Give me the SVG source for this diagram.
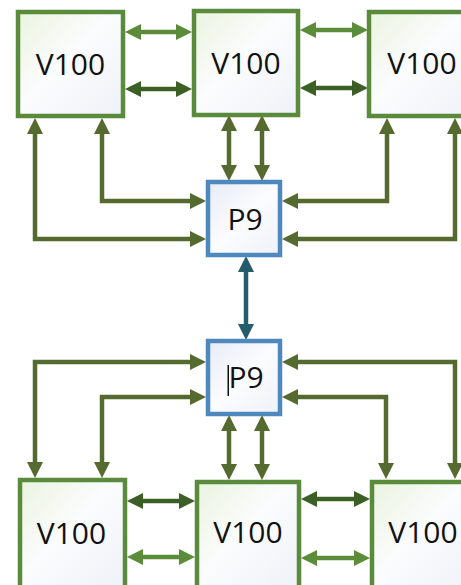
<svg xmlns="http://www.w3.org/2000/svg" width="461" height="585" viewBox="0 0 461 585">
<style>
.v{stroke:#5a8a3b;stroke-width:4.5;fill:url(#gv)}
.p{stroke:#4f88bd;stroke-width:4.5;fill:url(#gp)}
.t{font-family:"Open Sans","Liberation Sans",sans-serif;font-size:30px;fill:#111;text-anchor:middle}
.c{fill:none;stroke-width:4.5;stroke-linejoin:miter}
.lt{stroke:#5b8c3a;marker-start:url(#mL);marker-end:url(#mL)}
.dk{stroke:#3c5f26;marker-start:url(#mD);marker-end:url(#mD)}
.ol{stroke:#556a2e;marker-end:url(#mO)}
.ol2{stroke:#556a2e;marker-start:url(#mO);marker-end:url(#mO)}
.tl{stroke:#245c6b;marker-start:url(#mT);marker-end:url(#mT)}
</style>
<defs>
<linearGradient id="gv" x1="0" y1="0" x2="1" y2="1">
<stop offset="0" stop-color="#eaf3df"/><stop offset="0.45" stop-color="#fbfcfd"/><stop offset="1" stop-color="#eef1f8"/>
</linearGradient>
<linearGradient id="gp" x1="0" y1="0" x2="1" y2="1">
<stop offset="0" stop-color="#e6ebf6"/><stop offset="0.5" stop-color="#fbfcfe"/><stop offset="1" stop-color="#eef1f8"/>
</linearGradient>
<marker id="mL" viewBox="0 0 16 16" refX="4" refY="8" markerWidth="16" markerHeight="16" markerUnits="userSpaceOnUse" orient="auto-start-reverse"><path d="M0,0 L16,8 L0,16 z" fill="#5b8c3a"/></marker>
<marker id="mD" viewBox="0 0 16 16" refX="4" refY="8" markerWidth="16" markerHeight="16" markerUnits="userSpaceOnUse" orient="auto-start-reverse"><path d="M0,0 L16,8 L0,16 z" fill="#3c5f26"/></marker>
<marker id="mO" viewBox="0 0 16 16" refX="4" refY="8" markerWidth="16" markerHeight="16" markerUnits="userSpaceOnUse" orient="auto-start-reverse"><path d="M0,0 L16,8 L0,16 z" fill="#556a2e"/></marker>
<marker id="mT" viewBox="0 0 16 16" refX="4" refY="8" markerWidth="16" markerHeight="16" markerUnits="userSpaceOnUse" orient="auto-start-reverse"><path d="M0,0 L16,8 L0,16 z" fill="#245c6b"/></marker>
</defs>
<g id="connectors">
<path class="c lt" d="M137,32 H180"/>
<path class="c dk" d="M137,89 H180"/>
<path class="c lt" d="M312,30 H356"/>
<path class="c dk" d="M312,88 H356"/>
<path class="c ol2" d="M35,130 V239 H194"/>
<path class="c ol2" d="M102,130 V201 H194"/>
<path class="c ol2" d="M387,130 V201 H294"/>
<path class="c ol2" d="M455,130 V239 H294"/>
<path class="c ol2" d="M229,127 V169"/>
<path class="c ol2" d="M262,127 V169"/>
<path class="c tl" d="M246,268 V328"/>
<path class="c ol2" d="M194,362 H35 V466"/>
<path class="c ol2" d="M194,397 H102 V466"/>
<path class="c ol2" d="M294,362 H455 V467"/>
<path class="c ol2" d="M294,397 H386 V467"/>
<path class="c ol2" d="M229,427 V468"/>
<path class="c ol2" d="M262,427 V468"/>
<path class="c dk" d="M139,501 H183"/>
<path class="c lt" d="M139,557 H183"/>
<path class="c dk" d="M313,499 H358"/>
<path class="c lt" d="M313,558 H358"/>
</g>
<g id="v100-top-left"><rect class="v" x="18" y="12" width="105" height="104"/><text class="t" x="70.5" y="75">V100</text></g>
<g id="v100-top-mid"><rect class="v" x="194" y="11" width="104" height="104"/><text class="t" x="246" y="74">V100</text></g>
<g id="v100-top-right"><rect class="v" x="369" y="12" width="106" height="104"/><text class="t" x="422" y="74">V100</text></g>
<g id="p9-top"><rect class="p" x="208" y="182" width="72" height="73"/><text class="t" x="245" y="230">P9</text></g>
<g id="p9-bottom"><rect class="p" x="208" y="341" width="72" height="73"/><text class="t" x="246" y="388">P9</text><rect x="227.5" y="365" width="1.5" height="31" fill="#111"/></g>
<g id="v100-bottom-left"><rect class="v" x="20" y="480" width="105" height="110"/><text class="t" x="71.5" y="544">V100</text></g>
<g id="v100-bottom-mid"><rect class="v" x="197" y="482" width="102" height="110"/><text class="t" x="248" y="543">V100</text></g>
<g id="v100-bottom-right"><rect class="v" x="372" y="482" width="106" height="110"/><text class="t" x="423" y="543">V100</text></g>
</svg>
